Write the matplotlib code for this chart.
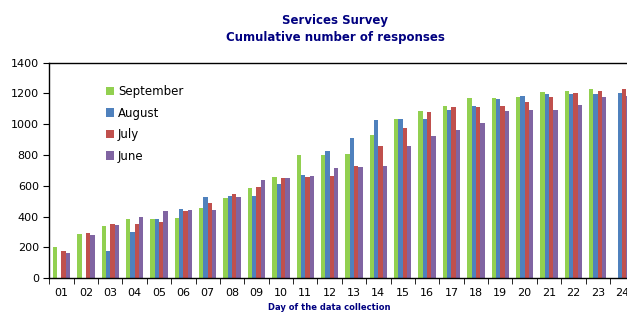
import matplotlib.pyplot as plt
import numpy as np

days = ['01', '02', '03', '04', '05', '06', '07', '08', '09', '10', '11', '12',
        '13', '14', '15', '16', '17', '18', '19', '20', '21', '22', '23', '24']

# 0 = no bar shown for that day
september = [205, 288, 338, 385, 385, 392, 456, 523, 588, 658, 799, 801,
             809, 933, 1035, 1084, 1119, 1169, 1173, 1177, 1208, 1218, 1229, 0]
august = [0, 0, 177, 301, 383, 450, 526, 532, 536, 610, 671, 827,
          913, 1028, 1035, 1035, 1093, 1121, 1162, 1184, 1195, 1195, 1197, 1204]
july = [177, 294, 352, 355, 363, 437, 489, 545, 591, 653, 660, 662,
        729, 859, 974, 1082, 1110, 1114, 1117, 1145, 1177, 1201, 1216, 1227]
june = [164, 279, 348, 398, 435, 441, 443, 526, 636, 651, 662, 718,
        723, 729, 857, 922, 963, 1008, 1086, 1091, 1093, 1127, 1179, 1180]

series = [('September', september, '#92D050'),
          ('August', august, '#4F81BD'),
          ('July', july, '#C0504D'),
          ('June', june, '#8064A2')]

navy = '#000080'

fig = plt.figure(figsize=(6.27, 3.13), dpi=100)
ax = fig.add_axes([0.0786, 0.111, 0.9214, 0.689])

x = np.arange(1, len(days) + 1)
w = 0.178
for i, (name, vals, color) in enumerate(series):
    ax.bar(x + (i - 1.5) * w, vals, width=w, color=color, label=name,
           edgecolor='none')

ax.set_yticks(range(0, 1401, 200))
ax.set_xticks(x)
ax.set_xticklabels(days)
ax.set_xticks(np.arange(0.5, 25, 1), minor=True)
# limits after the ticks, the chart is cut at the right edge like the original
ax.set_xlim(0.5, 24.2)
ax.set_ylim(0, 1400)
ax.tick_params(axis='x', which='major', length=0, labelsize=8, pad=7)
ax.tick_params(axis='x', which='minor', length=4, direction='out')
ax.tick_params(axis='y', length=4, labelsize=8)
ax.spines['right'].set_visible(False)
for s in ['left', 'bottom', 'top']:
    ax.spines[s].set_linewidth(1.0)

fig.text(0.535, 0.935, 'Services Survey', ha='center', va='center',
         fontsize=8.5, fontweight='bold', color=navy)
fig.text(0.535, 0.88, 'Cumulative number of responses', ha='center', va='center',
         fontsize=8.5, fontweight='bold', color=navy)
fig.text(0.525, 0.018, 'Day of the data collection', ha='center', va='center',
         fontsize=6, fontweight='bold', color=navy)

leg = ax.legend(loc='upper left', bbox_to_anchor=(0.08, 0.945), frameon=False,
                fontsize=8.5, handlelength=0.7, handleheight=0.7,
                handletextpad=0.3, labelspacing=0.72)

fig.savefig('out.png', dpi=100)
